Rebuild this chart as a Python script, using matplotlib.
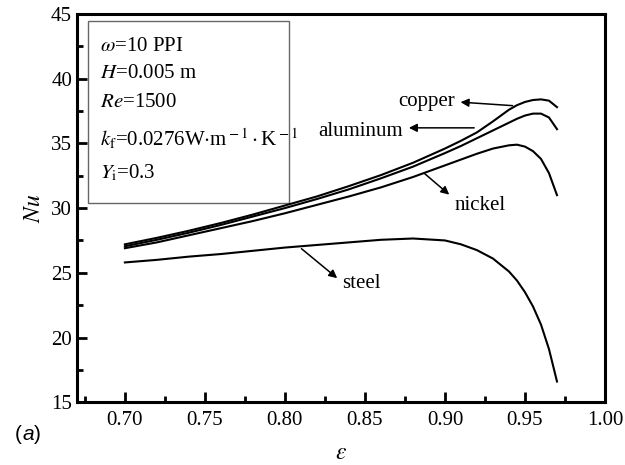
import matplotlib.pyplot as plt
from matplotlib.patches import Rectangle
from matplotlib.ticker import MultipleLocator

plt.rcParams['font.family'] = 'Liberation Serif'
plt.rcParams['mathtext.fontset'] = 'stix'

# porosity values and Nusselt number for each foam material
eps = [0.70, 0.72, 0.74, 0.76, 0.78, 0.80, 0.82, 0.84, 0.86, 0.88, 0.90,
       0.91, 0.92, 0.93, 0.94, 0.945, 0.95, 0.955, 0.96, 0.965, 0.97]
nu_copper = [27.2, 27.7, 28.25, 28.85, 29.5, 30.2, 30.9, 31.7, 32.55, 33.5, 34.6,
             35.2, 35.85, 36.7, 37.6, 37.95, 38.2, 38.35, 38.4, 38.3, 37.8]
nu_aluminum = [27.05, 27.55, 28.1, 28.7, 29.35, 30.0, 30.7, 31.45, 32.3, 33.2, 34.25,
               34.8, 35.4, 36.0, 36.6, 36.9, 37.15, 37.3, 37.3, 37.0, 36.1]
nu_nickel = [26.9, 27.35, 27.9, 28.45, 29.0, 29.6, 30.25, 30.9, 31.6, 32.4, 33.3,
             33.75, 34.2, 34.6, 34.85, 34.9, 34.75, 34.4, 33.8, 32.7, 31.0]
nu_steel = [25.8, 26.0, 26.25, 26.45, 26.7, 26.95, 27.15, 27.35, 27.55, 27.65, 27.5,
            27.2, 26.75, 26.1, 25.1, 24.4, 23.5, 22.4, 21.0, 19.1, 16.6]

fig = plt.figure(figsize=(6.25, 4.65), dpi=100)
ax = fig.add_axes([0.123, 0.135, 0.845, 0.835])

for nu in (nu_copper, nu_aluminum, nu_nickel, nu_steel):
    ax.plot(eps, nu, color='black', lw=1.5)

ax.set_xlim(0.67, 1.00)
ax.set_ylim(15, 45)
ax.xaxis.set_major_locator(MultipleLocator(0.05))
ax.xaxis.set_minor_locator(MultipleLocator(0.025))
ax.yaxis.set_major_locator(MultipleLocator(5))
ax.yaxis.set_minor_locator(MultipleLocator(2.5))
ax.xaxis.set_major_formatter(plt.FormatStrFormatter('%.2f'))
ax.tick_params(which='both', direction='in', top=False, right=False,
               labelsize=15, width=2)
ax.tick_params(which='major', length=7)
ax.tick_params(which='minor', length=4)
ax.tick_params(axis='x', pad=6)
for s in ax.spines.values():
    s.set_linewidth(2.2)

ax.set_xlabel(r'$\varepsilon$', fontsize=17, labelpad=10)
ax.set_ylabel(r'$Nu$', fontsize=17, labelpad=4)

# parameter box
ax.add_patch(Rectangle((0.021, 0.513), 0.38, 0.469, transform=ax.transAxes,
                       fill=False, edgecolor='#666666', lw=1))
params = [r'$\omega$=10 PPI', r'$H$=0.005 m', r'$Re$=1500',
          r'$k_{\rm f}$=0.0276W$\cdot$m$^{\rm -1}\cdot$K$^{\rm -1}$', r'$Y_{\rm i}$=0.3']
ys = [0.915, 0.846, 0.773, 0.677, 0.590]
for t, y in zip(params, ys):
    ax.text(0.044, y, t, transform=ax.transAxes, fontsize=15, va='center', ha='left')

# material labels with arrows
arrow = dict(arrowstyle='-|>', color='black', lw=1.1, mutation_scale=12)
ax.annotate('', xy=(0.908, 38.2), xytext=(0.944, 37.9), arrowprops=arrow)
ax.text(0.906, 38.2, 'copper', fontsize=15, ha='right', va='center')
ax.annotate('', xy=(0.8757, 36.2), xytext=(0.92, 36.2), arrowprops=arrow)
ax.text(0.874, 35.95, 'aluminum', fontsize=15, ha='right', va='center')
ax.annotate('', xy=(0.904, 30.9), xytext=(0.886, 32.8), arrowprops=arrow)
ax.text(0.922, 30.2, 'nickel', fontsize=15, ha='center', va='center')
ax.annotate('', xy=(0.834, 24.45), xytext=(0.809, 27.0), arrowprops=arrow)
ax.text(0.848, 24.2, 'steel', fontsize=15, ha='center', va='center')

# panel tag
fig.text(0.024, 0.066, '(', fontsize=15, family='Liberation Sans', va='center')
fig.text(0.0355, 0.066, 'a', fontsize=15, family='Liberation Sans', style='italic', va='center')
fig.text(0.0545, 0.066, ')', fontsize=15, family='Liberation Sans', va='center')

fig.savefig('out.png', dpi=100)
